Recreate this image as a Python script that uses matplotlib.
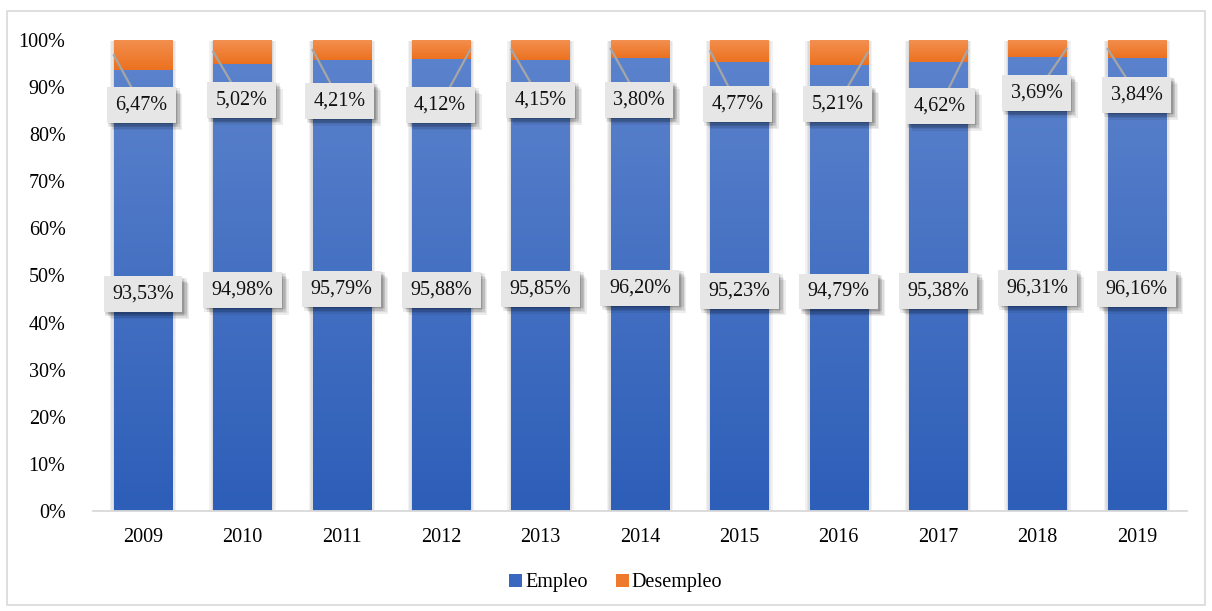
"""
Empleo vs Desempleo 2009-2019
Stacked 100% bar chart with gradient bars and boxed value labels
"""

import matplotlib
matplotlib.use('Agg')
import matplotlib.pyplot as plt
import matplotlib.patheffects as pe
from matplotlib.colors import LinearSegmentedColormap
from matplotlib.patches import Rectangle
import numpy as np

# Data
years = ['2009', '2010', '2011', '2012', '2013', '2014', '2015', '2016', '2017', '2018', '2019']
empleo = [93.53, 94.98, 95.79, 95.88, 95.85, 96.20, 95.23, 94.79, 95.38, 96.31, 96.16]
desempleo = [6.47, 5.02, 4.21, 4.12, 4.15, 3.80, 4.77, 5.21, 4.62, 3.69, 3.84]

# Label placement (data units) and leader line side
empleo_label_y = [46.0, 47.0, 47.2, 47.0, 47.2, 47.4, 46.8, 46.6, 46.8, 47.4, 47.2]
desempleo_label_y = [86.2, 87.3, 87.1, 86.2, 87.3, 87.3, 86.4, 86.4, 86.0, 88.8, 88.4]
desempleo_label_dx = [-0.02, -0.01, -0.02, -0.01, 0.0, -0.01, -0.02, -0.01, 0.02, -0.01, 0.0]
leader_side = ['l', 'l', 'l', 'r', 'l', 'l', 'l', 'r', 'r', 'r', 'l']

plt.rcParams['font.family'] = ['Liberation Serif', 'DejaVu Serif']
plt.rcParams['font.size'] = 14.5

BLUE_TOP, BLUE_BOTTOM = '#5B82CC', '#2D5EB8'
ORANGE_TOP, ORANGE_BOTTOM = '#F39050', '#EC711F'
BOX_COLOR = '#E6E6E6'
LINE_COLOR = '#A6A6A6'


def soft_shadow(offsets, alpha):
    """Fake a blurred shadow by stacking several faint offset shadows"""
    effects = [pe.SimplePatchShadow(offset=o, shadow_rgbFace='#000000', alpha=alpha) for o in offsets]
    return effects + [pe.Normal()]


fig = plt.figure(figsize=(12.12, 6.11), dpi=100)
ax = fig.add_axes([0.077, 0.1637, 0.902, 0.7708])

x = np.arange(len(years))
width = 0.585

bars_e = ax.bar(x, empleo, width, color=BLUE_TOP, label='Empleo', zorder=2)
bars_d = ax.bar(x, desempleo, width, bottom=empleo, color=ORANGE_TOP, label='Desempleo', zorder=2)

# vertical gradients clipped to each bar
grad = np.linspace(0, 1, 256).reshape(-1, 1)
cmap_b = LinearSegmentedColormap.from_list('b', [BLUE_BOTTOM, BLUE_TOP])
cmap_o = LinearSegmentedColormap.from_list('o', [ORANGE_BOTTOM, ORANGE_TOP])
bar_offsets = [(-3, -1), (-2, -1), (-1, -1), (1, -1), (2, -1), (3, -1), (0, -2), (0, -3)]
for bar_e, bar_d in zip(bars_e, bars_d):
    for bar, cmap in ((bar_e, cmap_b), (bar_d, cmap_o)):
        bx, by = bar.get_x(), bar.get_y()
        bw, bh = bar.get_width(), bar.get_height()
        im = ax.imshow(grad, cmap=cmap, origin='lower', aspect='auto',
                       extent=(bx, bx + bw, by, by + bh), zorder=3)
        im.set_clip_path(bar)
    # soft haze behind the whole stack
    sh = Rectangle((bar_e.get_x(), 0), width, 100, facecolor='white', edgecolor='none', zorder=1)
    sh.set_path_effects(soft_shadow(bar_offsets, 0.05))
    ax.add_patch(sh)

# leader lines and labels
box_offsets = [(1, -1), (2, -2), (3, -3), (4, -4), (5, -5), (3, -1), (1, -3)]
for i in range(len(years)):
    left = x[i] - width / 2
    right = x[i] + width / 2
    sx = left if leader_side[i] == 'l' else right
    sy = empleo[i] + desempleo[i] / 2
    lx = x[i] + desempleo_label_dx[i]
    ax.plot([sx, lx], [sy, desempleo_label_y[i]], color=LINE_COLOR, lw=1.6, zorder=4)

    for txt, ypos, xpos in ((f'{desempleo[i]:.2f}%'.replace('.', ','), desempleo_label_y[i], lx),
                            (f'{empleo[i]:.2f}%'.replace('.', ','), empleo_label_y[i], x[i])):
        t = ax.text(xpos, ypos, txt, ha='center', va='center', zorder=6, color='#111111',
                    bbox=dict(boxstyle='square,pad=0.42', facecolor=BOX_COLOR, edgecolor='none'))
        t.get_bbox_patch().set_path_effects(soft_shadow(box_offsets, 0.07))

ax.set_xlim(-0.5, len(years) - 0.5)
ax.set_ylim(0, 100)
ax.set_xticks(x)
ax.set_xticklabels(years)
ax.set_yticks(np.arange(0, 101, 10))
ax.set_yticklabels([f'{v}%' for v in range(0, 101, 10)])
ax.tick_params(axis='both', length=0)
ax.tick_params(axis='y', pad=20)
ax.tick_params(axis='x', pad=12)
for side in ['top', 'right', 'left']:
    ax.spines[side].set_visible(False)
ax.spines['bottom'].set_color('#D9D9D9')
ax.spines['bottom'].set_linewidth(1.3)
ax.spines['bottom'].set_zorder(5)

leg = fig.legend(handles=[bars_e, bars_d], labels=['Empleo', 'Desempleo'],
                 loc='center', bbox_to_anchor=(0.508, 0.046), ncol=2, frameon=False,
                 handlelength=0.65, handleheight=0.65, handletextpad=0.15, columnspacing=1.4)
leg.legend_handles[0].set_facecolor('#3A68C0')
leg.legend_handles[1].set_facecolor('#EE7A2E')

# outer frame
fig.patches.append(Rectangle((7 / 1212, 6 / 611), 1198 / 1212, 594 / 611, transform=fig.transFigure,
                             fill=False, edgecolor='#D9D9D9', lw=1.2))

fig.savefig('out.png', dpi=100)
plt.close(fig)
